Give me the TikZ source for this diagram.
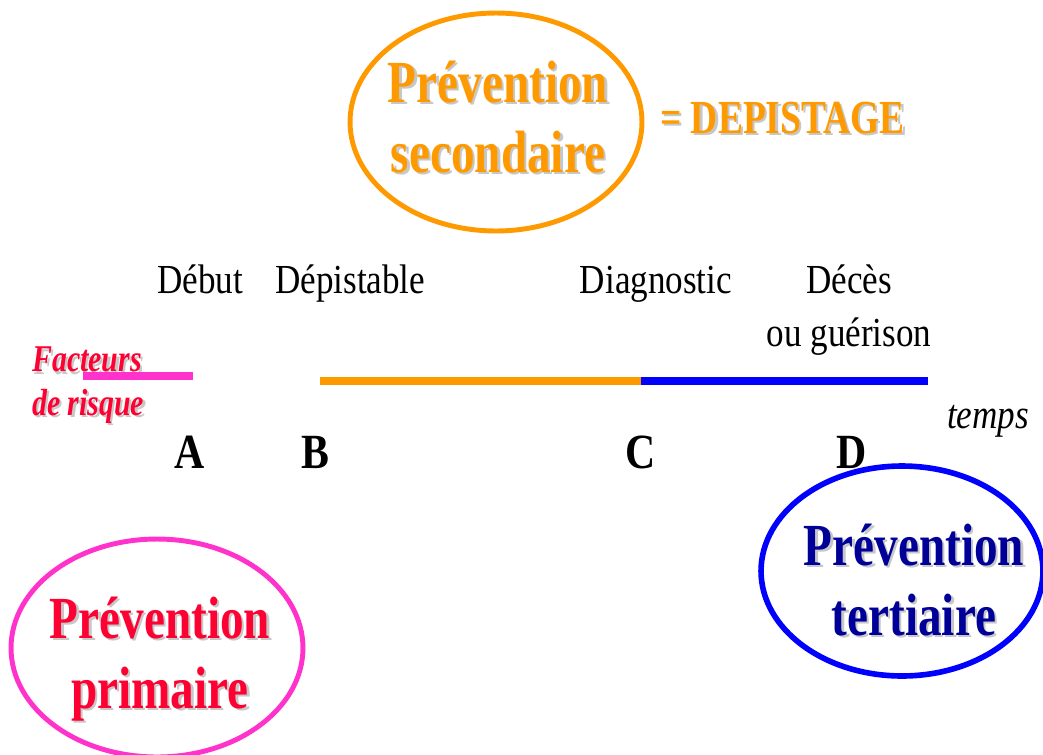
\documentclass[tikz,border=0pt]{standalone}
\usepackage{fontspec}
\setmainfont[FakeStretch=0.85]{Liberation Serif}
\newfontfamily\etroit[FakeStretch=0.79]{Liberation Serif}
\usepackage{xcolor}
\usetikzlibrary{shapes.geometric,positioning,calc}

\definecolor{orangeP}{HTML}{FF9900}
\definecolor{roseP}{HTML}{FF33CC}
\definecolor{rougeP}{HTML}{FF0033}
\definecolor{bleuP}{HTML}{0000FF}
\definecolor{marineP}{HTML}{000099}

% texte avec ombre grise
\newcommand{\ombre}[1]{\makebox[0pt][l]{\hspace{1.3pt}\raisebox{-1.3pt}{\textcolor{black!22}{#1}}}#1}

\begin{document}
\begin{tikzpicture}[
    x=0.02cm, y=-0.02cm,
    oval/.style={ellipse, draw, line width=2.8pt, minimum width=5.84cm, minimum height=4.36cm, inner sep=0pt},
    titre/.style={font=\etroit\fontsize{34}{39.5}\selectfont\bfseries, align=center, anchor=base},
    etape/.style={font=\fontsize{23.5}{30}\selectfont, align=center, anchor=base},
    lettre/.style={font=\fontsize{28}{30}\selectfont\bfseries, anchor=base},
    barre/.style={line width=5pt}
]
\useasboundingbox (0,0) rectangle (1043,754);

% Prevention secondaire
\node[oval, draw=orangeP] (secondaire) at (496,122) {};
\node[titre, text=orangeP] (secTxt) at (498,172) {\ombre{Prévention}\\\ombre{secondaire}};
\node[font=\etroit\fontsize{27}{30}\selectfont\bfseries, text=orangeP, anchor=base west] (depistage) at (654,133) {\ombre{= DEPISTAGE}};

% Etapes
\node[etape] (debut) at (200,293) {Début};
\node[etape, anchor=base west] (depistable) at (269,293) {Dépistable};
\node[etape] (diagnostic) at (656,293) {Diagnostic};
\node[etape] (deces) at (849,346) {Décès\\ou guérison};

% Facteurs de risque
\node[font=\etroit\fontsize{21.5}{24.5}\selectfont\bfseries\itshape, text=rougeP, align=left, anchor=base west] (facteurs) at (26,415) {\ombre{Facteurs}\\\ombre{de risque}};

% Ligne du temps
\coordinate (a0) at (83,376);
\coordinate (a1) at (193,376);
\coordinate (b) at (320,381);
\coordinate (c) at (641,381);
\coordinate (d) at (928,381);
\draw[barre, roseP, line width=4.5pt] (a0) -- (a1);
\draw[barre, orangeP] (b) -- (c);
\draw[barre, bleuP] (c) -- (d);
\node[font=\fontsize{23.5}{30}\selectfont\itshape, anchor=base west] (temps) at (941,428) {temps};

% Lettres
\node[lettre] (ptA) at (190,468) {A};
\node[lettre] (ptB) at (315,468) {B};
\node[lettre] (ptC) at (641,468) {C};
\node[lettre] (ptD) at (852,468) {D};

% Prevention primaire
\node[oval, draw=roseP] (primaire) at (157,648) {};
\node[titre, text=rougeP] (primTxt) at (160,708) {\ombre{Prévention}\\\ombre{primaire}};

% Prevention tertiaire
\node[oval, draw=bleuP, minimum width=5.64cm, minimum height=4.2cm, line width=3.2pt] (tertiaire) at (902,571) {};
\node[titre, text=marineP] (tertTxt) at (914,635) {\ombre{Prévention}\\\ombre{tertiaire}};

\end{tikzpicture}
\end{document}
